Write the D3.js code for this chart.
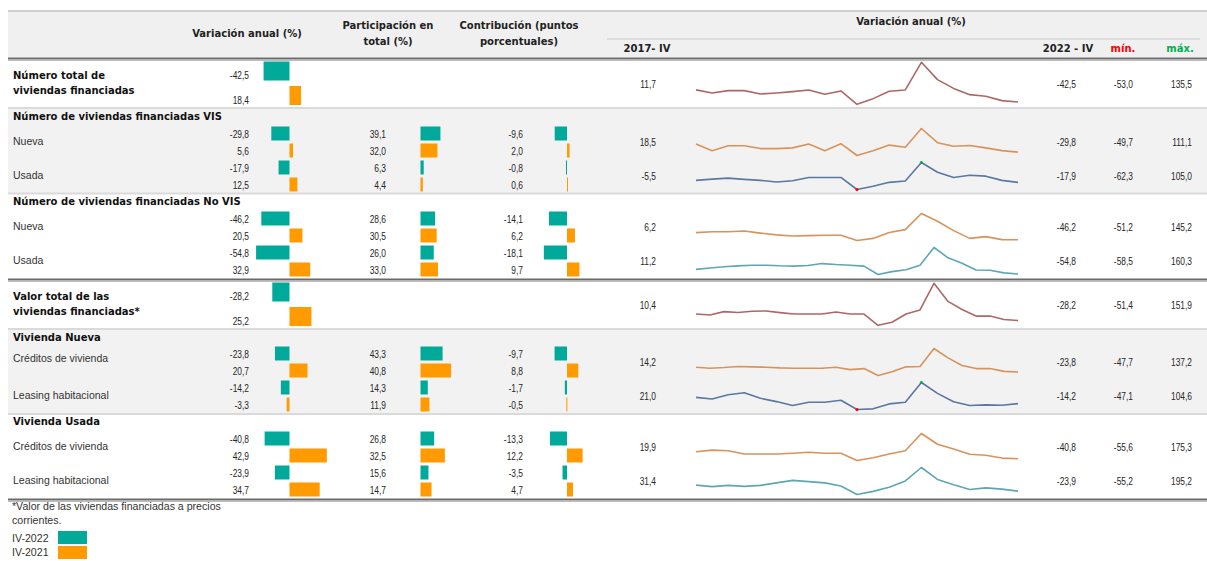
<!DOCTYPE html>
<html>
<head>
<meta charset="utf-8">
<script src="https://cdn.jsdelivr.net/npm/d3@7"></script>
<style>
  body { margin: 0; background: #fff; }
  svg { display: block; }
</style>
</head>
<body>
<svg id="chart" width="1207" height="561"></svg>
<script>
// ---------------- data ----------------
const periods = [
  "2017-I","2017-II","2017-III","2017-IV","2018-I","2018-II","2018-III","2018-IV",
  "2019-I","2019-II","2019-III","2019-IV","2020-I","2020-II","2020-III","2020-IV",
  "2021-I","2021-II","2021-III","2021-IV","2022-I","2022-II","2022-III","2022-IV"
];

const sectionTitles = [
  "Número de viviendas financiadas VIS",
  "Número de viviendas financiadas No VIS",
  "Vivienda Nueva",
  "Vivienda Usada"
];

const itemLabels = [
  ["Número total de", "viviendas financiadas"],
  ["Nueva"], ["Usada"], ["Nueva"], ["Usada"],
  ["Valor total de las", "viviendas financiadas*"],
  ["Créditos de vivienda"], ["Leasing habitacional"],
  ["Créditos de vivienda"], ["Leasing habitacional"]
];

// Variación anual (%)
const varAnual2022 = [-42.5, -29.8, -17.9, -46.2, -54.8, -28.2, -23.8, -14.2, -40.8, -23.9];
const varAnual2021 = [18.4, 5.6, 12.5, 20.5, 32.9, 25.2, 20.7, -3.3, 42.9, 34.7];
// Participación en total (%)
const partic2022 = [null, 39.1, 6.3, 28.6, 26.0, null, 43.3, 14.3, 26.8, 15.6];
const partic2021 = [null, 32.0, 4.4, 30.5, 33.0, null, 40.8, 11.9, 32.5, 14.7];
// Contribución (puntos porcentuales)
const contrib2022 = [null, -9.6, -0.8, -14.1, -18.1, null, -9.7, -1.7, -13.3, -3.5];
const contrib2021 = [null, 2.0, 0.6, 6.2, 9.7, null, 8.8, -0.5, 12.2, 4.7];

// Variación anual trimestral (series de las líneas)
const serieTotalNumero = [11.7, -2.1, 8.4, 8.4, -6.6, -2.1, 3.9, 11.4, -8.1, 6.9, -53.0, -27.6, 5.4, 11.4, 135.5, 57.8, 18.4, -9.6, -17.1, -36.5, -42.5];
const serieVisNueva = [18.5, -20.8, 8.0, 8.0, -8.5, -8.5, -4.3, 18.3, -20.8, 20.4, -49.7, -20.8, 12.2, -0.2, 111.1, 26.6, 5.6, 10.1, -4.3, -20.8, -29.8];
const serieVisUsada = [-5.5, 2.2, 8.3, 0.2, -5.9, -15.9, -7.9, 12.3, 12.3, 12.3, -62.3, -42.1, -17.9, -9.9, 105.0, 44.6, 12.5, 26.4, 20.4, -5.9, -17.9];
const serieNoVisNueva = [6.2, 12.6, 12.6, 17.7, 2.4, -10.4, -18.0, -15.5, -12.9, -12.9, -51.2, -35.9, 7.5, 27.9, 145.2, 89.1, 20.5, -35.9, -23.1, -45.0, -46.2];
const serieNoVisUsada = [-16.8, -6.4, 4.0, 11.2, 17.0, 17.0, 11.8, 9.2, 14.4, 30.0, 22.2, 17.0, 9.2, -58.5, -35.1, -19.4, 17.0, 160.3, 77.0, 32.9, -22.0, -24.6, -45.5, -54.8];
const serieTotalValor = [3.1, -1.8, 14.7, 10.4, 16.4, 18.0, 9.8, 3.1, 3.1, 3.1, 13.1, 3.1, 3.1, -51.4, -36.5, 3.1, 22.9, 151.9, 64.3, 25.2, -6.8, -6.8, -23.3, -28.2];
const serieNuevaCreditos = [9.2, 2.1, 6.8, 14.2, 11.5, 9.2, 4.4, 2.1, 2.1, 2.1, 9.2, -7.4, -0.3, -47.7, -21.6, 11.5, 13.9, 137.2, 73.2, 20.7, -0.3, -0.3, -19.3, -23.8];
const serieNuevaLeasing = [21.0, 12.2, 36.2, 47.3, 15.9, -2.7, -24.9, -6.4, -6.4, 4.8, -47.1, -43.4, -15.6, -6.4, 104.6, 43.6, -3.3, -24.9, -21.2, -23.0, -14.2];
const serieUsadaCreditos = [19.9, 33.2, 27.2, 0.6, 0.6, 0.6, 6.5, 15.4, 6.5, 6.5, -55.6, -31.9, 0.6, 27.2, 175.3, 83.5, 42.9, -2.4, -11.2, -34.9, -40.8];
const serieUsadaLeasing = [31.4, 17.7, 29.4, 20.6, 29.4, 52.7, 76.0, 64.3, 52.7, 23.5, -55.2, -26.0, 11.9, 70.2, 195.2, 84.7, 34.7, -8.5, 6.0, -5.6, -23.9];

const series = [serieTotalNumero, serieVisNueva, serieVisUsada, serieNoVisNueva, serieNoVisUsada,
  serieTotalValor, serieNuevaCreditos, serieNuevaLeasing, serieUsadaCreditos, serieUsadaLeasing];

const valorInicial = [11.7, 18.5, -5.5, 6.2, 11.2, 10.4, 14.2, 21.0, 19.9, 31.4];
const valorFinal = [-42.5, -29.8, -17.9, -46.2, -54.8, -28.2, -23.8, -14.2, -40.8, -23.9];
const valorMin = [-53.0, -49.7, -62.3, -51.2, -58.5, -51.4, -47.7, -47.1, -55.6, -55.2];
const valorMax = [135.5, 111.1, 105.0, 145.2, 160.3, 151.9, 137.2, 104.6, 175.3, 195.2];

const legendLabels = ["IV-2022", "IV-2021"];

// ---------------- layout & style ----------------
const W = 1207;
const C22 = "#00a99a", C21 = "#ff9a00";
const lineColors = ["#ad6866", "#d9935a", "#5b77a2", "#d9935a", "#5ea6b6",
                    "#ad6866", "#d9935a", "#5b77a2", "#d9935a", "#5ea6b6"];
const markerItems = [2, 7];
const itemTop = [60, 125, 159, 210, 244, 281, 345, 379, 430, 464];
const itemTall = [true, false, false, false, false, true, false, false, false, false];
const labelDy = [0, 20, 20, 20, 20, 0, 17, 20, 20, 20];
const titleY = [116, 201, 337, 421];
const blockOf = i => (i < 5 ? "numero" : "valor");

const BOLD = "'DejaVu Sans', Verdana, sans-serif";
const REG = "'Liberation Sans', Arial, sans-serif";
const NUM = "'Liberation Sans', Arial, sans-serif";
const NUM_SQUEEZE = 0.8;   // condensed figures

const fmt = d3.formatLocale({decimal: ",", thousands: ".", grouping: [3], currency: ["$", ""], minus: "-"}).format(".1f");

// horizontal scales for the in-cell bars
function barScale(zero, k) {
  return d3.scaleLinear().domain([-100, 100]).range([zero - 100 * k, zero + 100 * k]);
}
const zeroVar = 289.5, zeroPart = 420.5, zeroCont = 567;
const columns = [
  { v22: varAnual2022, v21: varAnual2021, numRight: 249,
    s: { numero: [barScale(zeroVar, 0.61), barScale(zeroVar, 0.63)],
         valor:  [barScale(zeroVar, 0.61), barScale(zeroVar, 0.87)] } },
  { v22: partic2022, v21: partic2021, numRight: 386,
    s: { numero: [barScale(zeroPart, 0.51), barScale(zeroPart, 0.53)],
         valor:  [barScale(zeroPart, 0.51), barScale(zeroPart, 0.75)] } },
  { v22: contrib2022, v21: contrib2021, numRight: 523,
    s: { numero: [barScale(zeroCont, 1.28), barScale(zeroCont, 1.28)],
         valor:  [barScale(zeroCont, 1.28), barScale(zeroCont, 1.28)] } }
];

// row geometry
function rowCenters(i) {
  const t = itemTop[i];
  return itemTall[i] ? [t + 11, t + 36] : [t + 8.5, t + 25.5];
}
function barBox(i, r) {
  const t = itemTop[i];
  if (itemTall[i]) return r === 0 ? [t + 1.5, 19] : [t + 26, 19];
  const c = rowCenters(i)[r];
  return [c - 7, 14];
}

const svg = d3.select("#chart");

// ---------------- backgrounds & rules ----------------
svg.append("rect").attr("x", 8).attr("y", 12).attr("width", W - 8).attr("height", 45).attr("fill", "#f0f0f0");
svg.append("rect").attr("x", 8).attr("y", 109).attr("width", W - 8).attr("height", 84).attr("fill", "#f2f2f2");
svg.append("rect").attr("x", 8).attr("y", 330).attr("width", W - 8).attr("height", 83).attr("fill", "#f2f2f2");

function hline(y, color, w, x0 = 8, x1 = W) {
  svg.append("line").attr("x1", x0).attr("x2", x1).attr("y1", y).attr("y2", y)
    .attr("stroke", color).attr("stroke-width", w);
}
hline(11, "#d0d0d0", 2);
hline(39, "#d8d8d8", 1.5, 607, 1200);
[58.5, 279.5, 499.5].forEach(y => { hline(y, "#6a6a6a", 2.2); hline(y + 2, "#bdbdbd", 1); });
[108, 193.5, 329, 414].forEach(y => hline(y, "#dadada", 2));

// ---------------- header ----------------
const head = svg.append("g").attr("font-family", BOLD).attr("font-weight", "bold")
  .attr("font-size", 10).attr("fill", "#222").attr("text-anchor", "middle");
head.append("text").attr("x", 247).attr("y", 37).text("Variación anual (%)");
head.append("text").attr("x", 388).attr("y", 29).text("Participación en");
head.append("text").attr("x", 388).attr("y", 45).text("total (%)");
head.append("text").attr("x", 519).attr("y", 29).text("Contribución (puntos");
head.append("text").attr("x", 519).attr("y", 45).text("porcentuales)");
head.append("text").attr("x", 911).attr("y", 25).text("Variación anual (%)");
head.append("text").attr("x", 647).attr("y", 52).text(periods[3].replace("-", "- "));
head.append("text").attr("x", 1068).attr("y", 52).text(periods[periods.length - 1].replace("-", " - "));
head.append("text").attr("x", 1123).attr("y", 52).attr("fill", "#ff0000").text("mín.");
head.append("text").attr("x", 1180).attr("y", 52).attr("fill", "#00b050").text("máx.");

// ---------------- section titles ----------------
svg.append("g").selectAll("text").data(sectionTitles).join("text")
  .attr("x", 13).attr("y", (d, i) => titleY[i] + 4)
  .attr("font-family", BOLD).attr("font-weight", "bold").attr("font-size", 10).attr("fill", "#111")
  .text(d => d);

// ---------------- item labels ----------------
itemLabels.forEach((lines, i) => {
  const t = itemTop[i];
  if (itemTall[i]) {
    lines.forEach((s, j) => svg.append("text").attr("x", 13).attr("y", t + 19 + j * 15)
      .attr("font-family", BOLD).attr("font-weight", "bold").attr("font-size", 10).attr("fill", "#111").text(s));
  } else {
    svg.append("text").attr("x", 13).attr("y", t + labelDy[i])
      .attr("font-family", REG).attr("font-size", 10.5).attr("fill", "#333").text(lines[0]);
  }
});

// ---------------- bar columns ----------------
const barsG = svg.append("g");
const numG = svg.append("g").attr("font-family", NUM).attr("font-size", 10.5).attr("fill", "#262626")
  .attr("text-anchor", "end");

function numText(sel, xf, yf) {
  return sel.attr("x", 0).attr("y", 0)
    .attr("transform", (d, k) => `translate(${xf(d, k)},${yf(d, k)}) scale(${NUM_SQUEEZE},1)`);
}

columns.forEach(col => {
  const cells = [];
  col.v22.forEach((v, i) => { if (v !== null) cells.push({ i, r: 0, v }); });
  col.v21.forEach((v, i) => { if (v !== null) cells.push({ i, r: 1, v }); });
  barsG.selectAll(null).data(cells).join("rect")
    .attr("x", d => { const s = col.s[blockOf(d.i)][d.r]; return Math.min(s(0), s(d.v)); })
    .attr("width", d => { const s = col.s[blockOf(d.i)][d.r]; return Math.max(1, Math.abs(s(d.v) - s(0))); })
    .attr("y", d => barBox(d.i, d.r)[0])
    .attr("height", d => barBox(d.i, d.r)[1])
    .attr("fill", d => d.r === 0 ? C22 : C21);
  numText(numG.selectAll(null).data(cells).join("text"),
    () => col.numRight,
    d => rowCenters(d.i)[d.r] + (itemTall[d.i] ? 8 : 4))
    .text(d => fmt(d.v));
});

// ---------------- sparklines ----------------
const sparkX0 = 696, sparkX1 = 1018;
const sparkG = svg.append("g");
series.forEach((vals, i) => {
  const dom = periods.slice(periods.length - vals.length);
  const x = d3.scalePoint().domain(dom).range([sparkX0, sparkX1]);
  const t = itemTop[i];
  const yr = itemTall[i] ? [t + 44.3, t + 2.3] : [t + 30.5, t + 3.5];
  const y = d3.scaleLinear().domain(d3.extent(vals)).range(yr);
  const pts = vals.map((v, k) => ({ p: dom[k], v }));
  sparkG.append("path").datum(pts)
    .attr("fill", "none").attr("stroke", lineColors[i]).attr("stroke-width", 1.6)
    .attr("stroke-linejoin", "round")
    .attr("d", d3.line().x(d => x(d.p)).y(d => y(d.v)));
  if (markerItems.includes(i)) {
    const hi = pts[d3.maxIndex(vals)], lo = pts[d3.minIndex(vals)];
    sparkG.append("circle").attr("cx", x(hi.p)).attr("cy", y(hi.v)).attr("r", 1.6).attr("fill", "#00b050");
    sparkG.append("circle").attr("cx", x(lo.p)).attr("cy", y(lo.v)).attr("r", 1.6).attr("fill", "#ff0000");
  }
});

// ---------------- summary numbers ----------------
const sumCols = [
  { vals: valorInicial, right: 656 },
  { vals: valorFinal, right: 1076 },
  { vals: valorMin, right: 1133 },
  { vals: valorMax, right: 1192 }
];
sumCols.forEach(c => {
  numText(numG.selectAll(null).data(c.vals).join("text"),
    () => c.right,
    (d, i) => itemTop[i] + (itemTall[i] ? 28 : 21))
    .text(d => fmt(d));
});

// ---------------- footnote & legend ----------------
const foot = svg.append("g").attr("font-family", REG).attr("font-size", 10.6).attr("fill", "#333");
foot.append("text").attr("x", 12).attr("y", 510).text("*Valor de las viviendas financiadas a precios");
foot.append("text").attr("x", 12).attr("y", 524).text("corrientes.");
legendLabels.forEach((s, k) => {
  foot.append("text").attr("x", 12).attr("y", 542 + k * 14).text(s);
  svg.append("rect").attr("x", 58).attr("y", 531 + k * 15).attr("width", 29).attr("height", 13)
    .attr("fill", k === 0 ? C22 : C21);
});
</script>
</body>
</html>
